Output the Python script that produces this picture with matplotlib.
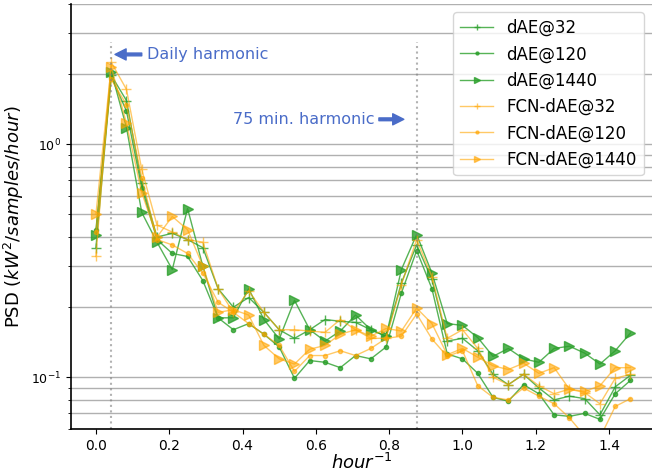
import matplotlib
matplotlib.use('Agg')
import matplotlib.pyplot as plt
import numpy as np

# frequencies in 1/hour (steps of 1/24)
freqs = np.arange(36) / 24.0

dae_32 = [0.36, 1.98, 1.54, 0.68, 0.40, 0.415, 0.39, 0.36, 0.24, 0.20,
          0.22, 0.19, 0.16, 0.147, 0.16, 0.177, 0.174, 0.172, 0.16, 0.15,
          0.254, 0.37, 0.263, 0.143, 0.147, 0.13, 0.103, 0.093, 0.103, 0.09,
          0.08, 0.083, 0.081, 0.069, 0.091, 0.102]
dae_120 = [0.43, 1.95, 1.39, 0.65, 0.39, 0.34, 0.33, 0.26, 0.18, 0.16,
           0.17, 0.153, 0.135, 0.099, 0.118, 0.116, 0.11, 0.124, 0.12, 0.135,
           0.23, 0.35, 0.24, 0.126, 0.12, 0.104, 0.082, 0.079, 0.093, 0.085,
           0.069, 0.068, 0.07, 0.066, 0.085, 0.097]
dae_1440 = [0.41, 2.05, 1.18, 0.51, 0.38, 0.29, 0.53, 0.30, 0.18, 0.18,
            0.24, 0.177, 0.146, 0.214, 0.16, 0.143, 0.158, 0.185, 0.16, 0.15,
            0.29, 0.41, 0.28, 0.17, 0.167, 0.148, 0.123, 0.133, 0.12, 0.116,
            0.133, 0.136, 0.127, 0.114, 0.13, 0.155]
fcn_32 = [0.33, 2.25, 1.72, 0.78, 0.45, 0.42, 0.39, 0.38, 0.24, 0.19,
          0.235, 0.19, 0.16, 0.16, 0.158, 0.156, 0.177, 0.16, 0.147, 0.147,
          0.25, 0.39, 0.27, 0.147, 0.16, 0.133, 0.10, 0.093, 0.103, 0.092,
          0.085, 0.089, 0.086, 0.077, 0.099, 0.103]
fcn_120 = [0.42, 1.90, 1.48, 0.72, 0.39, 0.37, 0.34, 0.28, 0.21, 0.19,
           0.17, 0.153, 0.137, 0.106, 0.124, 0.124, 0.13, 0.124, 0.133, 0.147,
           0.15, 0.187, 0.146, 0.123, 0.13, 0.092, 0.082, 0.080, 0.09, 0.083,
           0.077, 0.067, 0.056, 0.055, 0.075, 0.081]
fcn_1440 = [0.50, 2.15, 1.23, 0.62, 0.40, 0.49, 0.43, 0.30, 0.19, 0.195,
            0.185, 0.137, 0.12, 0.114, 0.132, 0.137, 0.153, 0.16, 0.15, 0.162,
            0.158, 0.198, 0.17, 0.125, 0.133, 0.122, 0.112, 0.108, 0.115, 0.104,
            0.11, 0.089, 0.087, 0.092, 0.11, 0.11]

series = [
    ('dAE@32', dae_32, 'tab:green', '+', 0.8),
    ('dAE@120', dae_120, 'tab:green', '.', 0.8),
    ('dAE@1440', dae_1440, 'tab:green', '>', 0.8),
    ('FCN-dAE@32', fcn_32, 'orange', '+', 0.6),
    ('FCN-dAE@120', fcn_120, 'orange', '.', 0.6),
    ('FCN-dAE@1440', fcn_1440, 'orange', '>', 0.6),
]

fig = plt.figure(figsize=(6.52, 4.73), dpi=100)
ax = fig.add_axes([71 / 652, 44 / 473, 581 / 652, 425 / 473])

for label, vals, col, mk, a in series:
    ms = 7 if mk != '.' else 6
    ax.plot(freqs, vals, color=col, marker=mk, markersize=ms, lw=1,
            alpha=a, label=label)

ax.set_yscale('log')
ax.set_ylim(0.06, 4.0)
ax.set_xlim(-0.068, 1.517)

ax.grid(True, which='both', axis='y', color='#b0b0b0', lw=1)
ax.set_axisbelow(True)
ax.spines['top'].set_visible(False)
ax.spines['right'].set_visible(False)
ax.spines['left'].set_linewidth(1.2)
ax.spines['bottom'].set_linewidth(1.2)

# harmonic markers
ax.axvline(1 / 24, ymax=0.91, color='gray', ls=':', lw=1.5, alpha=0.6)
ax.axvline(0.875, ymax=0.91, color='gray', ls=':', lw=1.5, alpha=0.6)

blue = '#4a6cc8'
ax.annotate('', xy=(0.052, 2.43), xytext=(0.125, 2.43),
            arrowprops=dict(color=blue, width=2, headwidth=8, headlength=8))
ax.text(0.138, 2.43, 'Daily harmonic', color=blue, fontsize=11.5,
        ha='left', va='center')
ax.annotate('', xy=(0.84, 1.28), xytext=(0.772, 1.28),
            arrowprops=dict(color=blue, width=2, headwidth=8, headlength=8))
ax.text(0.76, 1.28, '75 min. harmonic', color=blue, fontsize=11.5,
        ha='right', va='center')

ax.set_xlabel('$hour^{-1}$', fontsize=13, labelpad=0)
ax.set_ylabel('PSD ($kW^2/samples/hour$)', fontsize=13)
ax.tick_params(axis='x', labelsize=10)
ax.tick_params(axis='y', labelsize=9)

ax.legend(loc='upper right', fontsize=12, markerscale=0.7)

fig.savefig('out.png', dpi=100)
